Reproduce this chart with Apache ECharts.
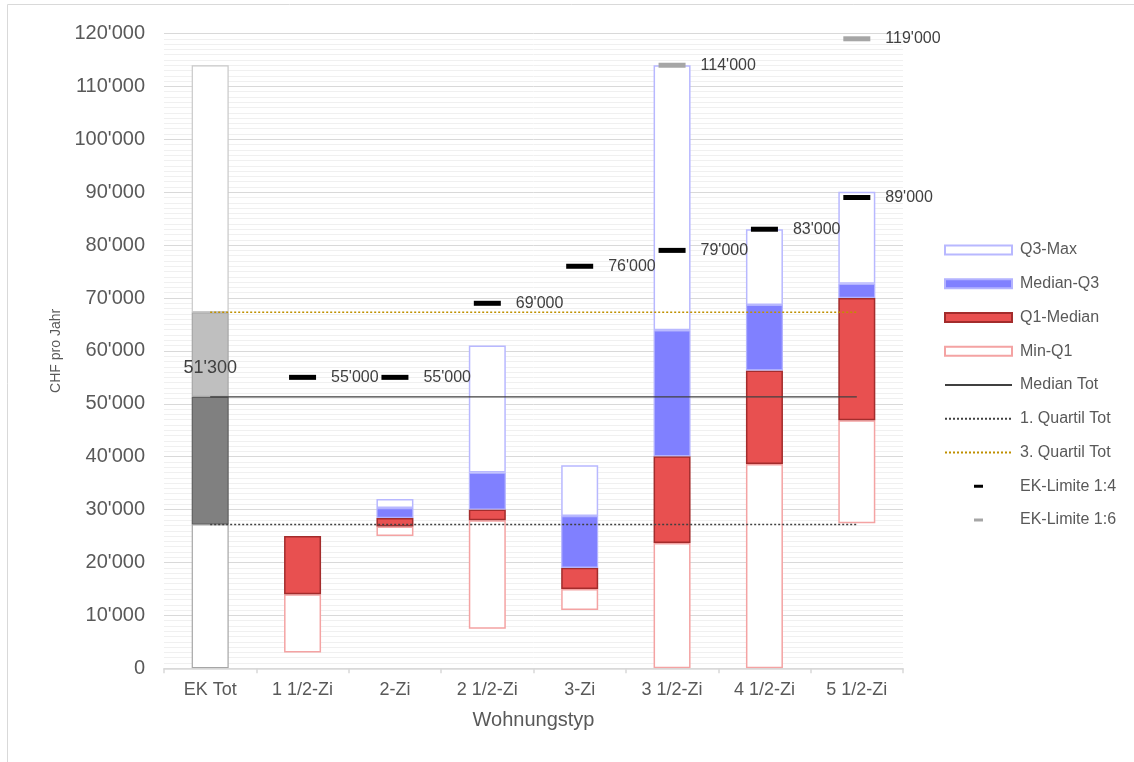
<!DOCTYPE html>
<html>
<head>
<meta charset="utf-8">
<script src="https://cdn.jsdelivr.net/npm/echarts@6/dist/echarts.min.js"></script>
<style>
  html, body { margin: 0; padding: 0; background: #fff; }
  #chart { width: 1134px; height: 762px; }
</style>
</head>
<body>
<div id="chart"></div>
<script>
// Income distribution per flat type (CHF per year)
const categories = ['EK Tot', '1 1/2-Zi', '2-Zi', '2 1/2-Zi', '3-Zi', '3 1/2-Zi', '4 1/2-Zi', '5 1/2-Zi'];
const minVals    = [0,      3000,  25000, 7500,  11000, 0,      0,     27400];
const q1Vals     = [27200,  14000, 26800, 28000, 15000, 23700,  38600, 46900];
const medVals    = [51300,  25000, 28400, 30000, 19000, 40100,  56300, 70000];
const q3Vals     = [67300,  null,  30300, 37000, 28800, 63900,  68700, 72700];
const maxVals    = [114000, null,  32000, 61000, 38400, 114000, 83000, 90100];
const ekLimit14  = [null, 55000, 55000, 69000, 76000, 79000, 83000, 89000];
const ekLimit16  = [null, null, null, null, null, 114000, null, 119000];
const medianTot  = 51300;
const q1Tot      = 27200;
const q3Tot      = 67300;
const yTicks     = [0, 10000, 20000, 30000, 40000, 50000, 60000, 70000, 80000, 90000, 100000, 110000, 120000];

const FONT = "'Liberation Sans', Arial, sans-serif";
const TXT = '#595959';

function fmt(v) {
  return String(v).replace(/\B(?=(\d{3})+(?!\d))/g, "'");
}
function diff(a, b) {
  return a.map((v, i) => (v == null || b[i] == null) ? '-' : v - b[i]);
}

// Overall column (EK Tot) is drawn in grey shades
const totStyles = [
  { color: '#ffffff', borderColor: '#a6a6a6', borderWidth: 1.2 },
  { color: '#808080', borderColor: '#5f5f5f', borderWidth: 1.2 },
  { color: '#bfbfbf', borderColor: '#a6a6a6', borderWidth: 1.2 },
  { color: '#ffffff', borderColor: '#c8c8c8', borderWidth: 1.2 }
];
function withTot(arr, k) {
  return arr.map((v, i) => i === 0 ? { value: v, itemStyle: totStyles[k] } : v);
}

const BW = 37;
const barCommon = { type: 'bar', stack: 'box', barWidth: BW, emphasis: { disabled: true } };

const series = [
  Object.assign({}, barCommon, {
    name: 'base', data: minVals.slice(),
    itemStyle: { color: 'rgba(0,0,0,0)', borderWidth: 0 }, silent: true
  }),
  Object.assign({}, barCommon, {
    name: 'Min-Q1', data: withTot(diff(q1Vals, minVals), 0),
    itemStyle: { color: '#ffffff', borderColor: '#f4a3a3', borderWidth: 1.5 }
  }),
  Object.assign({}, barCommon, {
    name: 'Q1-Median', data: withTot(diff(medVals, q1Vals), 1),
    itemStyle: { color: '#e85050', borderColor: '#a32c2c', borderWidth: 1.5 }
  }),
  Object.assign({}, barCommon, {
    name: 'Median-Q3', data: withTot(diff(q3Vals, medVals), 2),
    itemStyle: { color: '#8080ff', borderColor: '#b3b3ff', borderWidth: 1.2 }
  }),
  Object.assign({}, barCommon, {
    name: 'Q3-Max', data: withTot(diff(maxVals, q3Vals), 3),
    itemStyle: { color: '#ffffff', borderColor: '#b8b8ff', borderWidth: 1.5 }
  }),
  {
    name: 'Median Tot', type: 'line', symbol: 'none', z: 5,
    data: categories.map((c, i) => i === 0 ? {
      value: medianTot, symbol: 'circle', symbolSize: 0.01,
      label: { show: true, position: 'top', distance: 20, formatter: p => fmt(p.value),
               fontSize: 18, color: '#404040', fontFamily: FONT }
    } : medianTot),
    lineStyle: { color: '#404040', width: 1.3 }, itemStyle: { color: '#404040' }
  },
  {
    name: '1. Quartil Tot', type: 'line', symbol: 'none', z: 5,
    data: categories.map(() => q1Tot),
    lineStyle: { color: '#404040', width: 1.5, type: [2, 2] }, itemStyle: { color: '#404040' }
  },
  {
    name: '3. Quartil Tot', type: 'line', symbol: 'none', z: 5,
    data: categories.map(() => q3Tot),
    lineStyle: { color: '#bf9000', width: 1.5, type: [2, 2] }, itemStyle: { color: '#bf9000' }
  },
  {
    name: 'EK-Limite 1:4', type: 'scatter', symbol: 'rect', symbolSize: [27, 5], z: 6,
    data: ekLimit14.map(v => v == null ? '-' : v),
    itemStyle: { color: '#000000', opacity: 1 },
    label: { show: true, position: 'right', distance: 15, formatter: p => fmt(p.value),
             fontSize: 16, color: '#404040', fontFamily: FONT }
  },
  {
    name: 'EK-Limite 1:6', type: 'scatter', symbol: 'rect', symbolSize: [27, 5], z: 6,
    data: ekLimit16.map(v => v == null ? '-' : v),
    itemStyle: { color: '#a6a6a6', opacity: 1 },
    label: { show: true, position: 'right', distance: 15, formatter: p => fmt(p.value),
             fontSize: 16, color: '#404040', fontFamily: FONT }
  }
];

// small centred dash for the limit markers in the legend
const dashIcon = 'path://M0,0L0,0M67,9L67,9M29,3L38,3L38,6L29,6Z';
const noSymbol = { opacity: 0 };

const option = {
  animation: false,
  textStyle: { fontFamily: FONT },
  graphic: [{
    type: 'rect', silent: true,
    shape: { x: 7.5, y: 4.5, width: 1140, height: 770 },
    style: { fill: 'none', stroke: '#d9d9d9', lineWidth: 1 }
  }],
  grid: { left: 164, right: 231, top: 33.5, bottom: 93.7, containLabel: false },
  legend: {
    orient: 'vertical', left: 944, top: 240, padding: 0,
    itemWidth: 67, itemHeight: 9, itemGap: 13.75,
    textStyle: { fontSize: 16, color: TXT, fontFamily: FONT, lineHeight: 20, padding: [0, 0, 0, 3] },
    data: [
      { name: 'Q3-Max', icon: 'rect' },
      { name: 'Median-Q3', icon: 'rect' },
      { name: 'Q1-Median', icon: 'rect' },
      { name: 'Min-Q1', icon: 'rect' },
      { name: 'Median Tot', itemStyle: noSymbol },
      { name: '1. Quartil Tot', itemStyle: noSymbol },
      { name: '3. Quartil Tot', itemStyle: noSymbol },
      { name: 'EK-Limite 1:4', icon: dashIcon },
      { name: 'EK-Limite 1:6', icon: dashIcon }
    ]
  },
  xAxis: {
    type: 'category', data: categories, z: 3,
    name: 'Wohnungstyp', nameLocation: 'middle', nameGap: 42,
    nameTextStyle: { fontSize: 20, color: TXT, fontFamily: FONT },
    axisLine: { lineStyle: { color: '#d9d9d9', width: 1.5 } },
    axisTick: { show: true, length: 5, lineStyle: { color: '#d9d9d9', width: 1.5 } },
    axisLabel: { fontSize: 18, color: TXT, margin: 13, fontFamily: FONT }
  },
  yAxis: {
    type: 'value', min: yTicks[0], max: yTicks[yTicks.length - 1], interval: yTicks[1] - yTicks[0],
    name: 'CHF pro Jahr', nameLocation: 'middle', nameGap: 101,
    nameTextStyle: { fontSize: 14, color: TXT, fontFamily: FONT },
    axisLine: { show: false }, axisTick: { show: false },
    axisLabel: { fontSize: 20, color: TXT, margin: 19, fontFamily: FONT, formatter: v => fmt(v) },
    splitLine: { lineStyle: { color: '#d9d9d9', width: 1 } },
    minorTick: { show: false, splitNumber: 10 },
    minorSplitLine: { show: true, lineStyle: { color: '#f0f0f0', width: 1 } }
  },
  series: series
};

const chart = echarts.init(document.getElementById('chart'), null, { renderer: 'canvas' });
chart.setOption(option);
</script>
</body>
</html>
